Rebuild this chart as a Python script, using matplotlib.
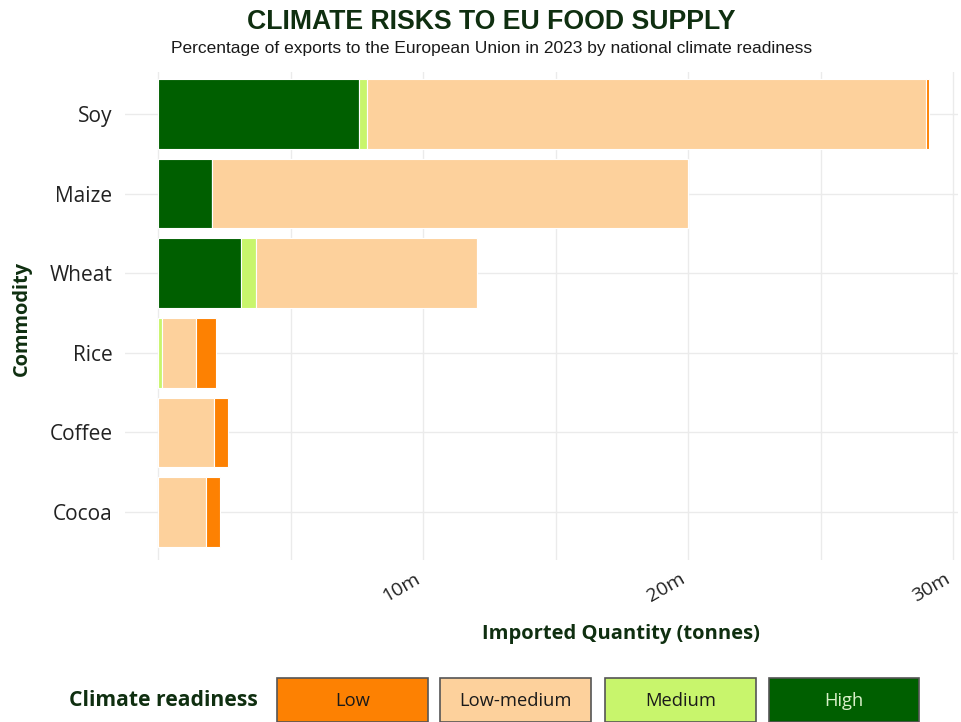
import matplotlib
matplotlib.use("Agg")
import matplotlib.pyplot as plt
from matplotlib.patches import Rectangle
import numpy as np

commodities = ["Soy", "Maize", "Wheat", "Rice", "Coffee", "Cocoa"]
levels = ["High", "Medium", "Low-medium", "Low"]
# values in million tonnes
high = [7.58, 2.04, 3.13, 0.0, 0.0, 0.0]
medium = [0.30, 0.0, 0.57, 0.15, 0.0, 0.0]
low_medium = [21.10, 17.96, 8.34, 1.28, 2.10, 1.81]
low = [0.12, 0.0, 0.0, 0.75, 0.53, 0.53]
series = [high, medium, low_medium, low]
colors = {"High": "#005f00", "Medium": "#c8f56c", "Low-medium": "#fdd19c", "Low": "#fd8102"}
xtick_vals = [10, 20, 30]
xtick_labels = ["10m", "20m", "30m"]

dark = "#0f2f10"
fig = plt.figure(figsize=(9.61, 7.22), dpi=100)
ax = fig.add_axes([0.130, 0.2244, 0.867, 0.6759])

y = np.arange(len(commodities))
left = np.zeros(len(commodities))
for name, vals in zip(levels, series):
    vals = np.array(vals)
    ax.barh(y, vals, left=left, height=0.875, color=colors[name],
            edgecolor="white", linewidth=0.8, zorder=3)
    left += vals

ax.set_xlim(-1.25, 30.18)
ax.set_ylim(5.603, -0.528)
ax.set_yticks(y)
ax.set_yticklabels(commodities, fontsize=15, family="Open Sans", color="#222222")
ticks = list(range(0, 31, 5))
ax.set_xticks(ticks)
labels = [xtick_labels[xtick_vals.index(v)] if v in xtick_vals else "" for v in ticks]
ax.set_xticklabels(labels, fontsize=14, family="Open Sans", color="#222222",
                   rotation=30, ha="right", va="top")
ax.tick_params(axis="both", length=0)
ax.tick_params(axis="x", pad=7)
ax.tick_params(axis="y", pad=9)
ax.grid(True, color="#ebebeb", linewidth=1.0, zorder=0)
for s in ax.spines.values():
    s.set_visible(False)

fig.text(621 / 961, 1 - 634 / 722, "Imported Quantity (tonnes)", fontsize=14.5,
         fontweight="bold", family="Open Sans", color=dark, ha="center", va="center")
fig.text(22 / 961, 1 - 318 / 722, "Commodity", rotation=90, fontsize=14.4, fontweight="bold",
         family="Open Sans", color=dark, ha="center", va="center")

fig.text(0.5114, 0.970, "CLIMATE RISKS TO EU FOOD SUPPLY", fontsize=19.2, fontweight="bold",
         family="Liberation Sans", color=dark, ha="center", va="center")
fig.text(0.5114, 0.9325, "Percentage of exports to the European Union in 2023 by national climate readiness",
         fontsize=12.5, family="Liberation Sans", color="#1a1a1a", ha="center", va="center")

# legend
fig.text(163 / 961, 1 - 701 / 722, "Climate readiness", fontsize=15.2, fontweight="bold",
         family="Open Sans", color=dark, ha="center", va="center")
leg_items = [("Low", 277, 428, "#1a1a1a"), ("Low-medium", 440, 591, "#1a1a1a"),
             ("Medium", 605, 756, "#1a1a1a"), ("High", 769, 919, "#d8f0c8")]
for name, x0, x1, tc in leg_items:
    r = Rectangle((x0 / 961, 0.0), (x1 - x0) / 961, 44 / 722,
                  transform=fig.transFigure, facecolor=colors[name],
                  edgecolor="#555555", linewidth=1.2)
    fig.add_artist(r)
    fig.text((x0 + x1) / 2 / 961, 1 - 701 / 722, name, fontsize=13.2, family="Open Sans",
             color=tc, ha="center", va="center")

fig.savefig("out.png", dpi=100)
